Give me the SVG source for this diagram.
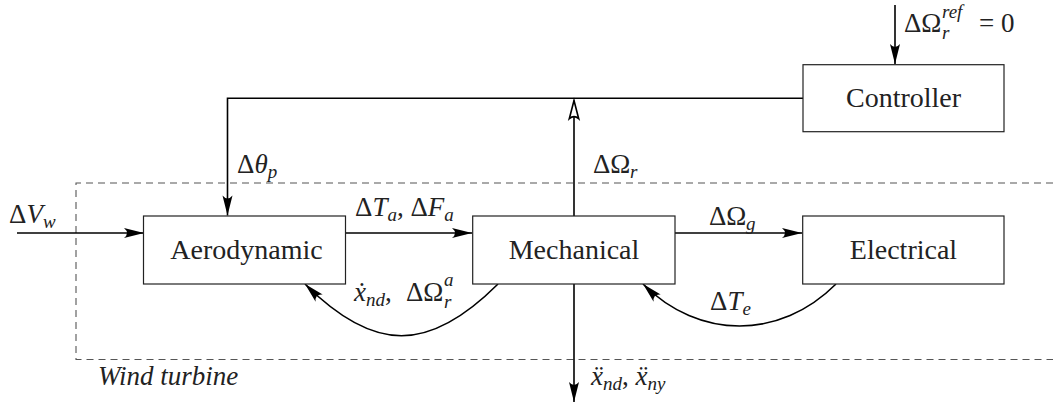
<svg xmlns="http://www.w3.org/2000/svg" width="1053" height="403" viewBox="0 0 1053 403">
<style>
.box{fill:#fff;stroke:#222;stroke-width:1.2}
.ln{fill:none;stroke:#000;stroke-width:1.6}
.dash{fill:none;stroke:#555;stroke-width:1.1;stroke-dasharray:7 5}
text{font-family:'Liberation Serif','Times New Roman',serif;fill:#222}
.t{font-size:27px}
.lbl{font-size:28px}
.i{font-style:italic}
.s{font-size:19px}
</style>
<defs>
<marker id="ah" markerUnits="userSpaceOnUse" markerWidth="22" markerHeight="12" refX="20" refY="5" orient="auto" overflow="visible">
<path d="M0,0 Q6,5 0,10 L20,5 Z" fill="#000"/>
</marker>
<marker id="ahh" markerUnits="userSpaceOnUse" markerWidth="22" markerHeight="14" refX="19" refY="5.5" orient="auto" overflow="visible">
<path d="M0.8,0.8 Q5,5.5 0.8,10.2 L19,5.5 Z" fill="#fff" stroke="#000" stroke-width="1.6" stroke-linejoin="miter"/>
</marker>
</defs>

<path class="dash" d="M1053,183 H76 V359.5 H1053"/>
<text class="t i" x="98" y="385" font-size="26">Wind turbine</text>

<g id="connectors">
<line class="ln" x1="895" y1="5" x2="895" y2="64" marker-end="url(#ah)"/>
<path class="ln" d="M803,98.3 H227.5 V215.5" marker-end="url(#ah)"/>
<line class="ln" x1="574" y1="216" x2="574" y2="100.5" marker-end="url(#ahh)"/>
<line class="ln" x1="17" y1="233" x2="144" y2="233" marker-end="url(#ah)"/>
<line class="ln" x1="345" y1="233" x2="472" y2="233" marker-end="url(#ah)"/>
<line class="ln" x1="675" y1="233" x2="802" y2="233" marker-end="url(#ah)"/>
<line class="ln" x1="574" y1="284" x2="574" y2="402" marker-end="url(#ah)"/>
<path class="ln" d="M498,284 C429,353 374,353 305,284" marker-end="url(#ah)"/>
<path class="ln" d="M836,284 C780,340 699,340 643,284" marker-end="url(#ah)"/>
</g>

<g id="controller">
<rect class="box" x="803" y="64.7" width="201" height="67"/>
<text class="lbl" x="903.5" y="107" text-anchor="middle">Controller</text>
</g>
<g id="aerodynamic">
<rect class="box" x="143.5" y="216" width="202" height="68"/>
<text class="lbl" x="246.5" y="259" text-anchor="middle">Aerodynamic</text>
</g>
<g id="mechanical">
<rect class="box" x="472.7" y="216" width="202.3" height="68"/>
<text class="lbl" x="574" y="259" text-anchor="middle">Mechanical</text>
</g>
<g id="electrical">
<rect class="box" x="802.7" y="216" width="201.3" height="68"/>
<text class="lbl" x="903.5" y="259" text-anchor="middle">Electrical</text>
</g>

<g id="labels">
<text class="t" y="32"><tspan x="904">ΔΩ</tspan><tspan class="s i" x="942" y="39">r</tspan><tspan class="s i" x="942" y="18">ref</tspan><tspan x="979" y="32">= 0</tspan></text>
<text class="t" y="173"><tspan x="237">Δ</tspan><tspan class="i">θ</tspan><tspan class="s i" dy="5">p</tspan></text>
<text class="t" y="173"><tspan x="593">ΔΩ</tspan><tspan class="s i" x="630" dy="5">r</tspan></text>
<text class="t" y="223"><tspan x="9">Δ</tspan><tspan class="i">V</tspan><tspan class="s i" dy="5">w</tspan></text>
<text class="t" y="216"><tspan x="355">Δ</tspan><tspan class="i">T</tspan><tspan class="s i" dy="5">a</tspan><tspan dy="-5">, Δ</tspan><tspan class="i">F</tspan><tspan class="s i" dy="5">a</tspan></text>
<text class="t" y="225"><tspan x="709">ΔΩ</tspan><tspan class="s i" x="746" dy="5">g</tspan></text>
<text class="t" y="301"><tspan x="354" class="i">ẋ</tspan><tspan class="s i" dy="5">nd</tspan><tspan dy="-5">,</tspan><tspan x="406">ΔΩ</tspan><tspan class="s i" x="444" y="308">r</tspan><tspan class="s i" x="444" y="286">a</tspan></text>
<text class="t" y="310"><tspan x="710">Δ</tspan><tspan class="i">T</tspan><tspan class="s i" dy="5">e</tspan></text>
<text class="t" y="385"><tspan x="591" class="i">ẍ</tspan><tspan class="s i" dy="5">nd</tspan><tspan dy="-5">, </tspan><tspan class="i">ẍ</tspan><tspan class="s i" dy="5">ny</tspan></text>
</g>
</svg>
